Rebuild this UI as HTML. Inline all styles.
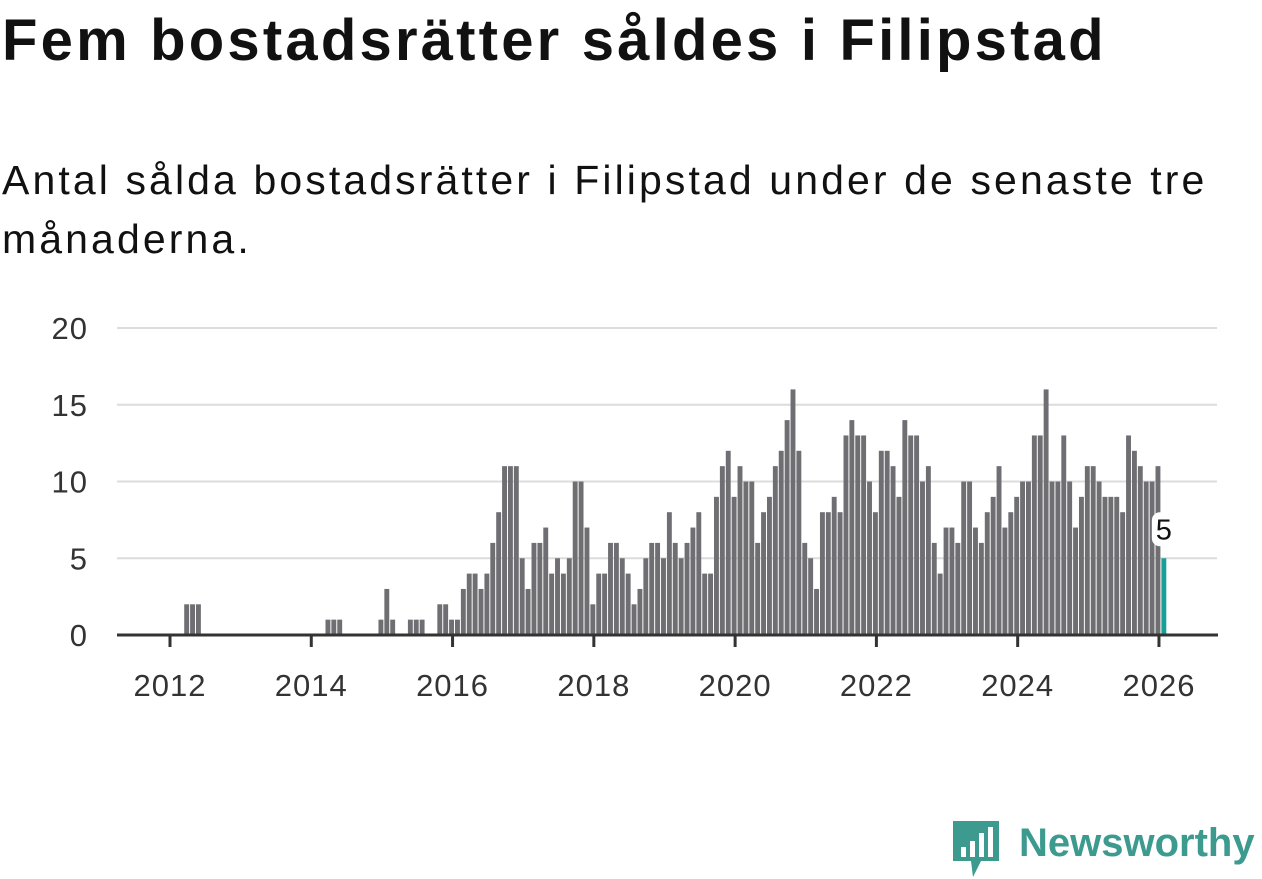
<!DOCTYPE html>
<html><head><meta charset="utf-8"><style>
body{margin:0;width:1262px;height:879px;background:#fff;overflow:hidden;font-family:"Liberation Sans","DejaVu Sans",sans-serif;color:#111;}
#title{position:absolute;left:2px;top:7px;font-size:58px;font-weight:bold;margin:0;letter-spacing:3.2px;white-space:nowrap;}
#sub{position:absolute;left:2px;top:151px;font-size:41px;line-height:59px;margin:0;width:1240px;letter-spacing:3.1px;}
svg{position:absolute;left:0;top:0;}
</style></head><body>
<h1 id="title">Fem bostadsrätter såldes i Filipstad</h1>
<p id="sub">Antal sålda bostadsrätter i Filipstad under de senaste tre månaderna.</p>
<svg id="chart" width="1262" height="879"></svg>
<script>
const startYear = 2011, startMonth = 5;
const values = [0,0,0,0,0,0,0,0,0,0,0, 2,2,2, 0,0,0,0,0,0,0,0,0,0,0,0,0,0,0,0,0,0,0,0,0, 1,1,1, 0,0,0,0,0,0, 1,3,1, 0,0, 1,1,1, 0,0, 2,2,
1,1,3,4,4,3,4,6,8,11,11,11,5,3,6,6,7,4,5,4,5,10,10,7,2,4,4,6,6,5,4,2,3,5,6,6,5,8,6,5,6,7,8,
4,4,9,11,12,9,11,10,10,6,8,9,11,12,14,16,12,6,5,3,8,8,9,8,13,14,13,13,10,8,12,12,11,9,14,13,13,
10,11,6,4,7,7,6,10,10,7,6,8,9,11,7,8,9,10,10,13,13,16,10,10,13,10,7,9,11,11,10,9,9,9,8,13,12,11,10,10,11,5];
const yTicks = [0,5,10,15,20];
const xTicks = [2012,2014,2016,2018,2020,2022,2024,2026];
const NS='http://www.w3.org/2000/svg';
const svg=document.getElementById('chart');
const xScale = yr => 170 + (yr-2012)*70.64;
const yScale = v => 635 - v*15.35;
const FONT='Liberation Sans, DejaVu Sans, sans-serif';
function el(t,a,p){const e=document.createElementNS(NS,t);for(const k in a)e.setAttribute(k,a[k]);(p||svg).appendChild(e);return e;}
yTicks.forEach(t=>{
  if(t>0){const g=el('line',{x1:117,x2:1217,y1:yScale(t),y2:yScale(t),stroke:'#dcdcdc','stroke-width':2});
  
  }
  const l=el('text',{x:88,y:yScale(t)+11,'text-anchor':'end','font-size':31,fill:'#333','font-family':FONT,'letter-spacing':1});
  l.textContent=t;
  
  
});
values.forEach((v,i)=>{
  const m=startMonth-1+i;
  const yr=startYear+Math.floor(m/12)+(m%12)/12;
  const cx=xScale(yr)-1;
  const last=i===values.length-1;
  const r=el('rect',{x:cx-2.45,y:yScale(v),width:4.9,height:yScale(0)-yScale(v),fill:last?'#17a095':'#6f6e73'});
  
  
  if(last){
    const bg=el('rect',{x:cx-12,y:yScale(v)-46,width:22,height:34,rx:8,fill:'#fff'});
    
    
    const t=el('text',{x:cx,y:yScale(v)-19,'text-anchor':'middle','font-size':29,fill:'#111','font-family':FONT});
    t.textContent=v;
    
    
  }
});
const ax=el('line',{x1:117,x2:1218,y1:635,y2:635,stroke:'#333','stroke-width':3});


xTicks.forEach(t=>{
  const tk=el('line',{x1:xScale(t),x2:xScale(t),y1:635,y2:647,stroke:'#333','stroke-width':3});
  
  
  const l=el('text',{x:xScale(t),y:696,'text-anchor':'middle','font-size':31,fill:'#333','font-family':FONT,'letter-spacing':1});
  l.textContent=t;
  
  
});
</script>
<div style="position:absolute;left:951px;top:819px;width:310px;height:60px;">
<svg width="52" height="60" style="position:absolute;left:0;top:0">
<path d="M2 2 H48 V42 H30 L22 58 L20 42 H2 Z" fill="#3d9a8f"/>
<rect x="10" y="28" width="5" height="10" fill="#fff"/><rect x="19" y="22" width="5" height="16" fill="#fff"/><rect x="28" y="14" width="5" height="24" fill="#fff"/><rect x="37" y="8" width="5" height="30" fill="#fff"/>
</svg>
<div style="position:absolute;left:68px;top:2px;font-size:40px;font-weight:bold;color:#3d9a8f;">Newsworthy</div>
</div>
</body></html>
